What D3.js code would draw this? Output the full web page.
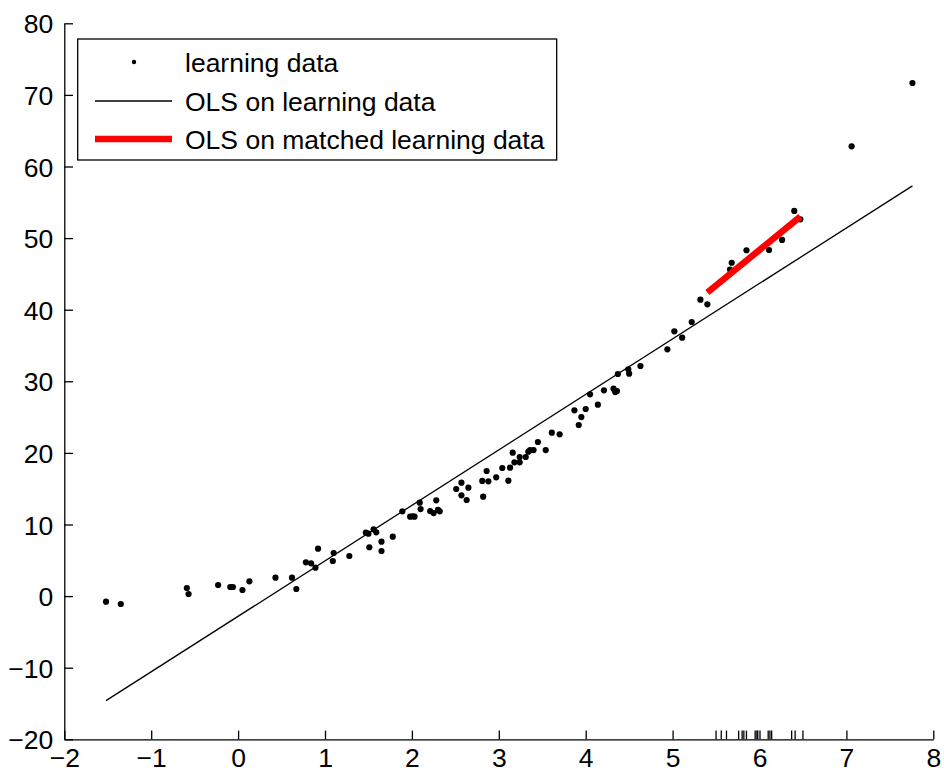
<!DOCTYPE html>
<html>
<head>
<meta charset="utf-8">
<script src="https://d3js.org/d3.v7.min.js"></script>
<style>
  body { margin: 0; background: #fff; }
  text { font-family: "Liberation Sans", Arial, sans-serif; }
</style>
</head>
<body>
<script>
// learning data (x, y)
var learnX = [-1.52, -1.35, -0.59, -0.57, -0.23, -0.09, -0.06, 0.05, 0.13, 0.43,
  0.62, 0.67, 0.78, 0.84, 0.89, 0.92, 1.09, 1.10, 1.28, 1.47,
  1.50, 1.51, 1.56, 1.59, 1.65, 1.65, 1.78, 1.89, 1.98, 2.01,
  2.03, 2.09, 2.10, 2.21, 2.25, 2.28, 2.30, 2.32, 2.51, 2.57,
  2.57, 2.63, 2.65, 2.81, 2.82, 2.86, 2.88, 2.97, 3.04, 3.11,
  3.13, 3.16, 3.18, 3.24, 3.24, 3.31, 3.34, 3.36, 3.40, 3.45,
  3.54, 3.61, 3.70, 3.87, 3.92, 3.95, 4.00, 4.05, 4.14, 4.21,
  4.32, 4.34, 4.36, 4.37, 4.49, 4.50, 4.63, 4.94, 5.02, 5.11,
  5.22, 5.32, 5.40, 5.66, 5.68, 5.85, 6.11, 6.26, 6.40, 6.47,
  7.06, 7.76];
var learnY = [-0.78, -1.10, 1.13, 0.29, 1.55, 1.27, 1.27, 0.85, 2.07, 2.57,
  2.57, 0.99, 4.72, 4.58, 3.97, 6.62, 4.90, 6.02, 5.60, 8.86,
  8.72, 6.82, 9.33, 8.91, 7.60, 6.30, 8.30, 11.84, 11.09, 11.15,
  11.09, 13.05, 12.16, 11.88, 11.60, 13.38, 12.03, 11.84, 14.96, 15.84,
  14.08, 13.42, 15.14, 16.08, 13.88, 17.47, 16.03, 16.59, 17.89, 16.12,
  17.93, 20.03, 18.69, 19.43, 18.69, 19.43, 20.17, 20.40, 20.40, 21.52,
  20.40, 22.83, 22.60, 25.95, 23.90, 25.00, 26.13, 28.18, 26.73, 28.74,
  28.97, 28.50, 28.64, 31.02, 31.68, 31.06, 32.14, 34.47, 36.98, 36.09,
  38.28, 41.40, 40.75, 45.60, 46.56, 48.30, 48.34, 49.74, 53.79, 52.62,
  62.82, 71.66];

// fitted lines (end points)
var olsX = [-1.52, 7.76];
var olsY = [-14.6, 57.3];
var matchedX = [5.40, 6.47];
var matchedY = [42.4, 53.0];

// rug marks along the x axis
var rugX = [5.50, 5.56, 5.62, 5.76, 5.80, 5.82, 5.85, 5.95, 5.97, 5.98,
  6.10, 6.12, 6.14, 6.37, 6.41, 6.50];

var xTicks = [-2, -1, 0, 1, 2, 3, 4, 5, 6, 7, 8];
var yTicks = [-20, -10, 0, 10, 20, 30, 40, 50, 60, 70, 80];
var legendLabels = ["learning data", "OLS on learning data", "OLS on matched learning data"];

var width = 944, height = 778;
var plotLeft = 64.3, plotRight = 933.3, plotTop = 23.3, plotBottom = 739.3;
var tickLen = 8.7;
var fontSize = 26.5;

var svg = d3.select("body").append("svg")
  .attr("width", width)
  .attr("height", height);

svg.append("rect").attr("width", width).attr("height", height).attr("fill", "white");

var x = d3.scaleLinear().domain([-2, 8]).range([plotLeft, plotRight]);
var y = d3.scaleLinear().domain([-20, 80]).range([plotBottom, plotTop]);

// axes, ticks pointing inward
var xAxis = svg.append("g")
  .attr("transform", "translate(0," + plotBottom + ")")
  .call(d3.axisBottom(x).tickValues(xTicks).tickSize(-tickLen).tickSizeOuter(0).tickPadding(8));
var yAxis = svg.append("g")
  .attr("transform", "translate(" + plotLeft + ",0)")
  .call(d3.axisLeft(y).tickValues(yTicks).tickSize(-tickLen).tickSizeOuter(0).tickPadding(11));

[xAxis, yAxis].forEach(function(g) {
  g.select(".domain").attr("stroke", "black").attr("stroke-width", 1.3);
  g.selectAll(".tick line").attr("stroke", "black").attr("stroke-width", 1.3);
  g.selectAll(".tick text")
    .attr("fill", "black")
    .style("font-size", fontSize + "px")
    .style("font-family", "'Liberation Sans', Arial, sans-serif");
});
xAxis.selectAll(".tick text").attr("dy", "0.75em");
yAxis.selectAll(".tick text").attr("dy", "0.36em");

// rug
svg.selectAll(".rug")
  .data(rugX)
  .enter().append("line")
  .attr("class", "rug")
  .attr("x1", function(d) { return x(d); })
  .attr("x2", function(d) { return x(d); })
  .attr("y1", plotBottom)
  .attr("y2", plotBottom - tickLen)
  .attr("stroke", "black")
  .attr("stroke-width", 1.3);

// OLS on learning data
var ols = olsX.map(function(d, i) { return [d, olsY[i]]; });
var line = d3.line().x(function(d) { return x(d[0]); }).y(function(d) { return y(d[1]); });

svg.append("path")
  .attr("d", line(ols))
  .attr("fill", "none")
  .attr("stroke", "black")
  .attr("stroke-width", 1.3);

// learning data points
var pts = learnX.map(function(d, i) { return [d, learnY[i]]; });
svg.selectAll(".pt")
  .data(pts)
  .enter().append("circle")
  .attr("class", "pt")
  .attr("cx", function(d) { return x(d[0]); })
  .attr("cy", function(d) { return y(d[1]); })
  .attr("r", 3.1)
  .attr("fill", "black");

// OLS on matched learning data
var matched = matchedX.map(function(d, i) { return [d, matchedY[i]]; });
svg.append("path")
  .attr("d", line(matched))
  .attr("fill", "none")
  .attr("stroke", "red")
  .attr("stroke-width", 6.5);

// legend
var lg = svg.append("g");
lg.append("rect")
  .attr("x", 77.7).attr("y", 39)
  .attr("width", 479).attr("height", 121)
  .attr("fill", "white")
  .attr("stroke", "black")
  .attr("stroke-width", 1.3);

var rowY = [62, 101, 139];
lg.selectAll(".lt")
  .data(legendLabels)
  .enter().append("text")
  .attr("x", 185)
  .attr("y", function(d, i) { return rowY[i]; })
  .attr("dy", "0.36em")
  .style("font-size", fontSize + "px")
  .attr("fill", "black")
  .text(function(d) { return d; });

lg.append("circle").attr("cx", 134).attr("cy", rowY[0]).attr("r", 2.2).attr("fill", "black");
lg.append("line")
  .attr("x1", 95).attr("x2", 172).attr("y1", rowY[1]).attr("y2", rowY[1])
  .attr("stroke", "black").attr("stroke-width", 1.3);
lg.append("line")
  .attr("x1", 95).attr("x2", 172).attr("y1", rowY[2]).attr("y2", rowY[2])
  .attr("stroke", "red").attr("stroke-width", 6.5);
</script>
</body>
</html>
